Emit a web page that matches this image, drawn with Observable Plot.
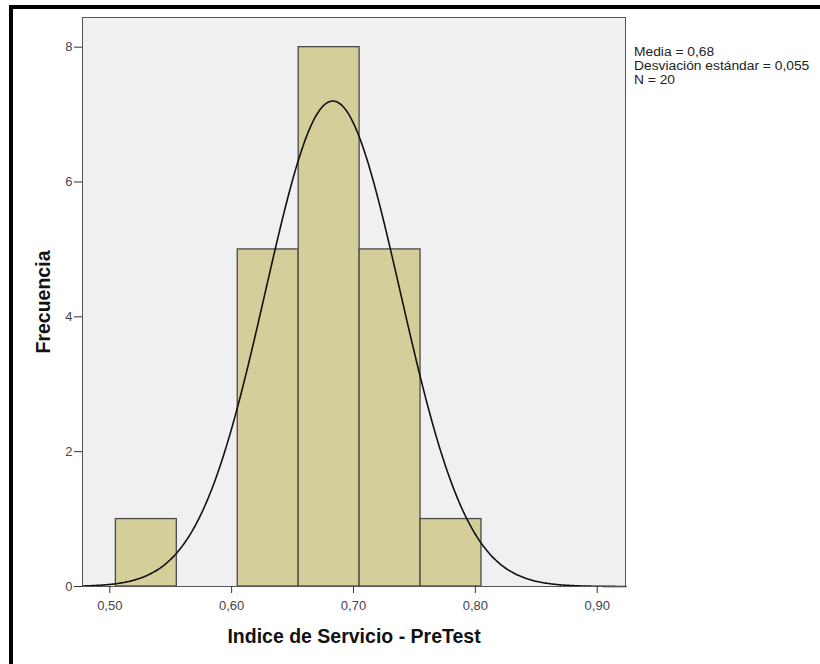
<!DOCTYPE html>
<html>
<head>
<meta charset="utf-8">
<script src="https://cdn.jsdelivr.net/npm/d3@7"></script>
<script src="https://cdn.jsdelivr.net/npm/@observablehq/plot@0.6"></script>
<style>
  html, body { margin: 0; padding: 0; background: #fff; }
  #wrap { position: relative; width: 820px; height: 664px; overflow: hidden; }
  #border { position: absolute; left: 9px; top: 5px; right: -10px; bottom: -10px;
            border-top: 4px solid #000; border-left: 4px solid #000; pointer-events: none; }
  #legend { position: absolute; left: 634px; top: 45px; font: 12px "Liberation Sans", Arial, sans-serif;
            line-height: 14px; color: #222; white-space: nowrap; transform: scaleX(1.15); transform-origin: 0 0; }
  svg text { font-family: "Liberation Sans", Arial, sans-serif; }
</style>
</head>
<body>
<div id="wrap">
  <div id="chart"></div>
  <div id="border"></div>
  <div id="legend"></div>
</div>
<script>
// Data
const binStarts = [0.505, 0.555, 0.605, 0.655, 0.705, 0.755];
const binWidth = 0.05;
const counts = [1, 0, 5, 8, 5, 1];
const xTicks = [0.5, 0.6, 0.7, 0.8, 0.9];
const yTicks = [0, 2, 4, 6, 8];
const xLabel = "Indice de Servicio - PreTest";
const yLabel = "Frecuencia";
const legendLines = ["Media = 0,68", "Desviación estándar = 0,055", "N = 20"];
const mean = 0.683;
const sd = 0.0554;
const n = 20;
const xDomain = [0.4776, 0.9232];
const yDomain = [0, 8.44];

const bars = binStarts.map((s, i) => ({x1: s, x2: s + binWidth, y: counts[i]})).filter(d => d.y > 0);

// Normal curve overlay, as drawn by SPSS from the stated mean / sd
const curve = d3.range(xDomain[0], xDomain[1] + 0.0005, 0.001).map(x => ({
  x,
  y: n * binWidth * Math.exp(-0.5 * ((x - mean) / sd) ** 2) / (sd * Math.sqrt(2 * Math.PI))
}));

const fmt = d => d.toFixed(2).replace(".", ",");

const plot = Plot.plot({
  width: 820,
  height: 664,
  marginLeft: 82,
  marginRight: 195,
  marginTop: 17,
  marginBottom: 78,
  x: {domain: xDomain},
  y: {domain: yDomain},
  marks: [
    Plot.frame({fill: "#f0f0f0", stroke: null}),
    Plot.rectY(bars, {x1: "x1", x2: "x2", y: "y", fill: "#d4cf9a", stroke: "#4a4a4a", strokeWidth: 1.3, inset: 0}),
    Plot.line(curve, {x: "x", y: "y", stroke: "#111", strokeWidth: 1.6, curve: "monotone-x"}),
    Plot.frame({stroke: "#555", strokeWidth: 1}),
    Plot.axisX({ticks: xTicks, tickFormat: fmt, tickSize: 7, tickPadding: 7, stroke: "#333",
      fontSize: 13, color: "#444", label: null}),
    Plot.axisY({ticks: yTicks, tickFormat: d => d, tickSize: 8, tickPadding: 2, stroke: "#333",
      fontSize: 13, color: "#444", label: null}),
    Plot.text([xLabel], {text: d => d, frameAnchor: "bottom", textAnchor: "middle", lineAnchor: "bottom", dy: 56,
      fontSize: 19.5, fontWeight: "bold", fill: "#111"}),
    Plot.text([yLabel], {text: d => d, frameAnchor: "left", textAnchor: "middle", lineAnchor: "bottom", rotate: -90, dx: -33,
      fontSize: 19.5, fontWeight: "bold", fill: "#111"})
  ]
});
// make sure tick labels render at the reference size
d3.select(plot).selectAll("text").each(function() {
  const t = this.textContent;
  if (/^\d(,\d\d)?$/.test(t)) { this.style.fontSize = "13px"; this.style.fill = "#444"; }
});
document.getElementById("chart").appendChild(plot);

const leg = document.getElementById("legend");
legendLines.forEach(t => { const d = document.createElement("div"); d.textContent = t; leg.appendChild(d); });
</script>
</body>
</html>
